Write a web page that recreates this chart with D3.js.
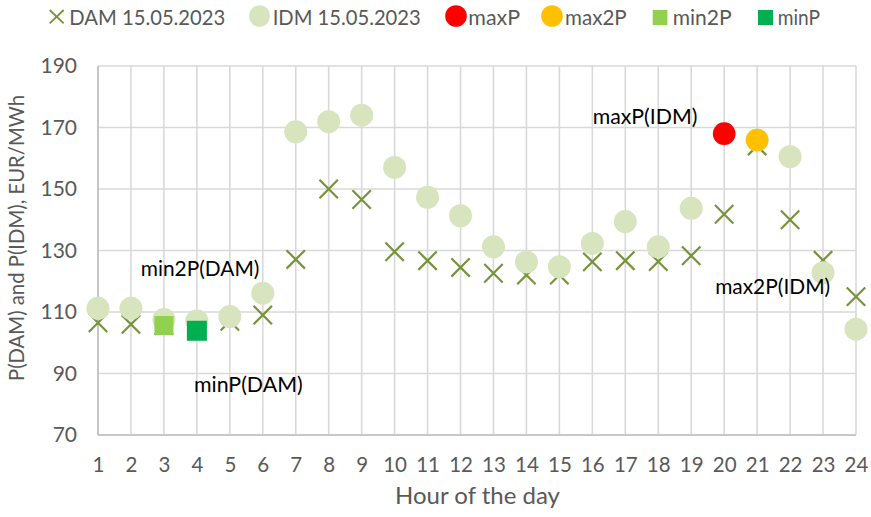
<!DOCTYPE html>
<html><head><meta charset="utf-8">
<script src="https://cdn.jsdelivr.net/npm/d3@7"></script>
<style>body{margin:0;background:#fff}svg{display:block}text{font-family:Lato,"Noto Sans",sans-serif}</style>
</head><body><svg id="c" width="871" height="517"></svg>
<script>
const hours = d3.range(1,25);
const damValues = [106.5,106,105.6,104,107,109,127.1,150,146.6,129.6,126.7,124.5,122.6,122,122,126.3,126.7,126.4,128.3,141.8,164,140,126.8,115];
const idmValues = [111.2,111.2,107.6,107.1,108.5,116.1,168.6,171.9,174,157,147.3,141.3,131.2,126.3,124.7,132.3,139.4,131.2,143.7,168,165.9,160.5,122.8,104.4];
const maxP = [{h:20, v:168}];
const max2P = [{h:21, v:165.9}];
const min2P = [{h:3, v:105.6}];
const minP = [{h:4, v:103.9}];
const yTicks = [70,90,110,130,150,170,190];
const legendLabels = ["DAM 15.05.2023","IDM 15.05.2023","maxP","max2P","min2P","minP"];
const annotationLabels = ["maxP(IDM)","max2P(IDM)","min2P(DAM)","minP(DAM)"];
const annotationTargets = [maxP[0], max2P[0], min2P[0], minP[0]];

// layout
const annLayout = [{dx:-131.5,dy:-9.3,w:104.7},{dx:-42,dy:154,w:115},{dx:-23.2,dy:-49.8,w:118.7},{dx:-2.9,dy:61.3,w:108.7}];
const legLayout = {y:25, textX:[69.3,272.7,468.3,565,672.7,777.7], textW:[156,148,51.7,61.7,59,42.3]};

const svg = d3.select("#c");
const x = d3.scaleLinear().domain([1,24]).range([98,856]);
const y = d3.scaleLinear().domain([70,190]).range([435,66]);
const gridCol = "#D9D9D9", dam = "#77933C", idm = "#D7E4BD";
const fit = (sel, w) => sel.attr("textLength", w).attr("lengthAdjust","spacingAndGlyphs");

// grid
svg.append("g").selectAll("line").data(yTicks).join("line")
  .attr("x1",x(1)).attr("x2",x(24)).attr("y1",d=>y(d)).attr("y2",d=>y(d))
  .attr("stroke",gridCol).attr("stroke-width",1.6);
svg.append("g").selectAll("line").data(hours).join("line")
  .attr("x1",d=>x(d)).attr("x2",d=>x(d)).attr("y1",y(190)).attr("y2",y(70))
  .attr("stroke",gridCol).attr("stroke-width",1.6);
svg.append("line").attr("x1",x(1)).attr("x2",x(1)).attr("y1",y(190)).attr("y2",y(70)).attr("stroke","#BFBFBF").attr("stroke-width",1.6);
svg.append("line").attr("x1",x(1)).attr("x2",x(24)).attr("y1",y(70)).attr("y2",y(70)).attr("stroke","#BFBFBF").attr("stroke-width",1.6);

// axes labels
const ya = svg.append("g").attr("transform",`translate(${x(1)},0)`)
  .call(d3.axisLeft(y).tickValues(yTicks).tickSize(0).tickPadding(21));
ya.select(".domain").remove();
ya.selectAll("text").attr("font-size",21).attr("fill","#595959").style("font-family","Lato");
const xa = svg.append("g").attr("transform",`translate(0,${y(70)})`)
  .call(d3.axisBottom(x).tickValues(hours).tickFormat(d3.format("d")).tickSize(0));
xa.select(".domain").remove();
xa.selectAll("text").attr("font-size",20.5).attr("fill","#595959").style("font-family","Lato")
  .attr("dy",null).attr("y",36.7);

svg.append("text").attr("x",477.5).attr("y",503.5).attr("text-anchor","middle")
  .attr("font-size",23.5).attr("fill","#595959").text("Hour of the day").call(fit,165);
svg.append("text").attr("transform","translate(24,238) rotate(-90)").attr("text-anchor","middle")
  .attr("font-size",20.3).attr("fill","#595959").text("P(DAM) and P(IDM), EUR/MWh");

// DAM crosses
const xs = 9.2;
const crossPath = `M${-xs},${-xs}L${xs},${xs}M${-xs},${xs}L${xs},${-xs}`;
svg.append("g").selectAll("path").data(hours).join("path")
  .attr("transform",(d,i)=>`translate(${x(d)},${y(damValues[i])})`)
  .attr("d",crossPath).attr("stroke",dam).attr("stroke-width",2.2).attr("fill","none");
// IDM circles
svg.append("g").selectAll("circle").data(hours).join("circle")
  .attr("cx",d=>x(d)).attr("cy",(d,i)=>y(idmValues[i])).attr("r",11.5).attr("fill",idm);
svg.append("g").selectAll("circle").data(maxP).join("circle")
  .attr("cx",d=>x(d.h)).attr("cy",d=>y(d.v)).attr("r",11.3).attr("fill","#FF0000");
svg.append("g").selectAll("circle").data(max2P).join("circle")
  .attr("cx",d=>x(d.h)).attr("cy",d=>y(d.v)).attr("r",11.3).attr("fill","#FFC000");
svg.append("g").selectAll("rect").data(min2P).join("rect")
  .attr("x",d=>x(d.h)-9.5).attr("y",d=>y(d.v)-9.5).attr("width",19).attr("height",19).attr("fill","#92D050");
svg.append("g").selectAll("rect").data(minP).join("rect")
  .attr("x",d=>x(d.h)-10).attr("y",d=>y(d.v)-10).attr("width",20).attr("height",20).attr("fill","#00B050");

// annotations
svg.append("g").selectAll("text").data(annotationLabels).join("text")
  .attr("x",(d,i)=>x(annotationTargets[i].h)+annLayout[i].dx)
  .attr("y",(d,i)=>y(annotationTargets[i].v)+annLayout[i].dy)
  .attr("font-size",21.5).attr("fill","#000").text(d=>d)
  .each(function(d,i){ d3.select(this).call(fit, annLayout[i].w); });

// legend
const lg = svg.append("g").attr("font-size",21).attr("fill","#595959");
lg.append("path").attr("transform","translate(56.7,16.7)").attr("d","M-7,-6.7L7,6.7M-7,6.7L7,-6.7").attr("stroke",dam).attr("stroke-width",1.8);
lg.append("ellipse").attr("cx",259.5).attr("cy",16).attr("rx",10.5).attr("ry",10.8).attr("fill",idm);
lg.append("ellipse").attr("cx",456).attr("cy",16).attr("rx",10.8).attr("ry",10.8).attr("fill","#FF0000");
lg.append("ellipse").attr("cx",552).attr("cy",16).attr("rx",10.8).attr("ry",10.8).attr("fill","#FFC000");
lg.append("rect").attr("x",652.7).attr("y",10).attr("width",14.7).attr("height",15).attr("fill","#92D050");
lg.append("rect").attr("x",758).attr("y",10).attr("width",15).attr("height",15).attr("fill","#00B050");
lg.selectAll("text").data(legendLabels).join("text")
  .attr("x",(d,i)=>legLayout.textX[i]).attr("y",legLayout.y).text(d=>d)
  .each(function(d,i){ d3.select(this).call(fit, legLayout.textW[i]); });
</script></body></html>
